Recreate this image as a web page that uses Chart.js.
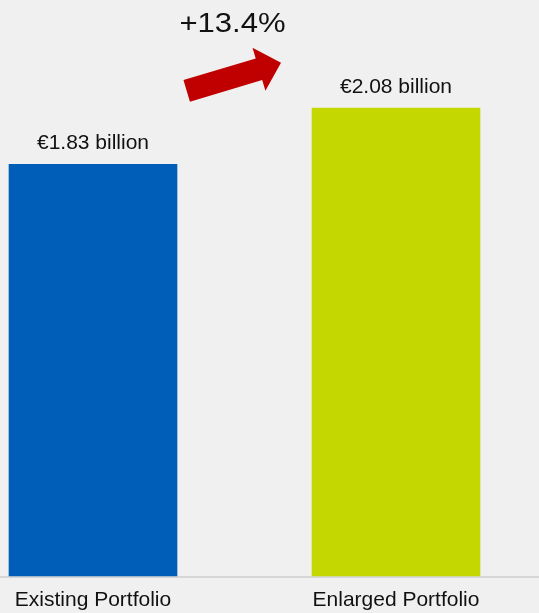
<!DOCTYPE html>
<html>
<head>
<meta charset="utf-8">
<script src="https://cdn.jsdelivr.net/npm/chart.js@4"></script>
<style>
  body { margin: 0; background: #f0f0f0; }
  canvas { display: block; }
</style>
</head>
<body>
<canvas id="chartPortfolio" width="539" height="613"></canvas>
<script>
// Datos del gráfico
const categories = ["Existing Portfolio", "Enlarged Portfolio"];
const values = [1.83, 2.08];
const valueLabels = ["€1.83 billion", "€2.08 billion"];
const barColors = ["#005eb8", "#c5d700"];
const growthLabel = "+13.4%";

// Fondo gris y línea base del eje
const backgroundPlugin = {
  id: "background",
  beforeDraw(chart) {
    const ctx = chart.ctx;
    ctx.save();
    ctx.fillStyle = "#f0f0f0";
    ctx.fillRect(0, 0, chart.width, chart.height);
    ctx.restore();
  },
  beforeDatasetsDraw(chart) {
    const ctx = chart.ctx;
    const y = chart.chartArea.bottom + 1;
    ctx.save();
    ctx.strokeStyle = "#d6d6d6";
    ctx.lineWidth = 2;
    ctx.beginPath();
    ctx.moveTo(0, y);
    ctx.lineTo(chart.width, y);
    ctx.stroke();
    ctx.restore();
  },
};

// Etiquetas encima de cada barra
const valueLabelPlugin = {
  id: "valueLabels",
  afterDatasetsDraw(chart) {
    const ctx = chart.ctx;
    const meta = chart.getDatasetMeta(0);
    ctx.save();
    ctx.font = "21px 'Liberation Sans', Arial, sans-serif";
    ctx.fillStyle = "#111";
    ctx.textAlign = "center";
    ctx.textBaseline = "alphabetic";
    meta.data.forEach((bar, i) => {
      ctx.fillText(valueLabels[i], bar.x, bar.y - 15);
    });
    ctx.restore();
  },
};

// Flecha roja y porcentaje de crecimiento
const growthPlugin = {
  id: "growthArrow",
  afterDraw(chart) {
    const ctx = chart.ctx;
    const tail = { x: 186.7, y: 90.9 };
    const tip = { x: 281, y: 62.7 };
    const ang = Math.atan2(tip.y - tail.y, tip.x - tail.x);
    const len = Math.hypot(tip.x - tail.x, tip.y - tail.y);
    const shaft = 11.3, headLen = 23, headW = 22.5;
    ctx.save();
    ctx.translate(tail.x, tail.y);
    ctx.rotate(ang);
    ctx.fillStyle = "#c00000";
    ctx.beginPath();
    ctx.moveTo(0, -shaft);
    ctx.lineTo(len - headLen, -shaft);
    ctx.lineTo(len - headLen, -headW);
    ctx.lineTo(len, 0);
    ctx.lineTo(len - headLen, headW);
    ctx.lineTo(len - headLen, shaft);
    ctx.lineTo(0, shaft);
    ctx.closePath();
    ctx.fill();
    ctx.restore();

    // Texto ligeramente ensanchado como en la imagen
    ctx.save();
    ctx.translate(232.5, 31.7);
    ctx.scale(1.15, 1);
    ctx.font = "27px 'Liberation Sans', Arial, sans-serif";
    ctx.fillStyle = "#111";
    ctx.textAlign = "center";
    ctx.textBaseline = "alphabetic";
    ctx.fillText(growthLabel, 0, 0);
    ctx.restore();
  },
};

new Chart(document.getElementById("chartPortfolio"), {
  type: "bar",
  data: {
    labels: categories,
    datasets: [
      {
        data: values,
        backgroundColor: barColors,
        barThickness: 168,
        clip: false,
      },
    ],
  },
  options: {
    responsive: false,
    animation: false,
    devicePixelRatio: 1,
    layout: { padding: { left: 93, right: 143, top: 0, bottom: 0 } },
    plugins: { legend: { display: false }, tooltip: { enabled: false } },
    scales: {
      x: {
        offset: false,
        grid: { display: false, drawTicks: false },
        border: { display: false },
        ticks: {
          padding: 12,
          color: "#111",
          font: { family: "'Liberation Sans', Arial, sans-serif", size: 21 },
          maxRotation: 0,
        },
        afterFit(scale) {
          scale.height = 37;
        },
      },
      y: { display: false, min: 0, max: 2.56 },
    },
  },
  plugins: [backgroundPlugin, valueLabelPlugin, growthPlugin],
});
</script>
</body>
</html>
